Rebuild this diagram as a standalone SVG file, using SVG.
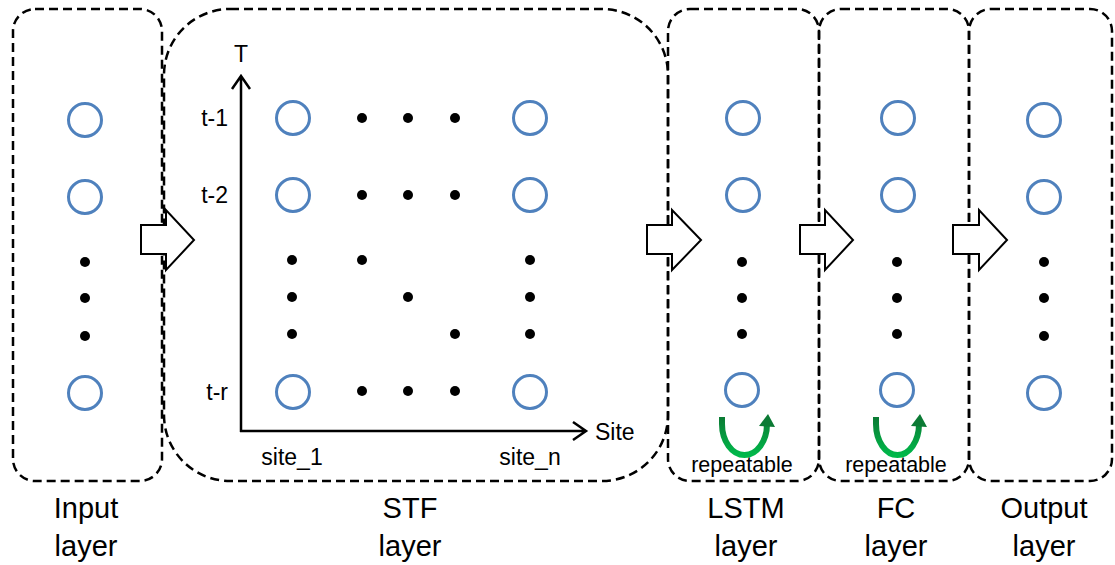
<svg xmlns="http://www.w3.org/2000/svg" width="1115" height="565" viewBox="0 0 1115 565">
<defs>
<style>
.box{fill:none;stroke:#000;stroke-width:2.5;stroke-dasharray:9 5}
.n{fill:none;stroke:#4F81BD;stroke-width:3}
.d{fill:#000}
.blk{fill:#fff;stroke:#000;stroke-width:2}
.ax{fill:none;stroke:#000;stroke-width:2.5}
.t{font-family:"Liberation Sans",Arial,sans-serif;fill:#000}
.lab{font-size:29px;text-anchor:middle}
.sm{font-size:23px}
.rep{font-size:21.5px;text-anchor:middle}
.loop{fill:none;stroke:url(#g);stroke-width:6}
</style>
<linearGradient id="g" x1="0" y1="0" x2="0" y2="1">
<stop offset="0" stop-color="#0B7A34"/>
<stop offset="1" stop-color="#00B84A"/>
</linearGradient>
</defs>
<rect width="1115" height="565" fill="#fff"/>

<g id="input-layer">
<rect class="box" x="13" y="9" width="149" height="472" rx="22"/>
<circle class="n" cx="85" cy="120" r="16.5"/>
<circle class="n" cx="85" cy="197" r="16.5"/>
<circle class="d" cx="85" cy="262" r="5"/>
<circle class="d" cx="85" cy="298" r="5"/>
<circle class="d" cx="85" cy="336" r="5"/>
<circle class="n" cx="85" cy="393" r="16.5"/>
<text class="t lab" x="86" y="518">Input</text>
<text class="t lab" x="86" y="556">layer</text>
</g>

<g id="stf-layer">
<rect class="box" x="164" y="9" width="504" height="472" rx="66"/>
<path class="ax" d="M241,432 V76 M232,89 L241,76 L250,89"/>
<path class="ax" d="M240,431 H586 M573,422 L586,431 L573,440"/>
<text class="t sm" x="241" y="62" text-anchor="middle">T</text>
<text class="t sm" x="595" y="440">Site</text>
<text class="t sm" x="228" y="126" text-anchor="end">t-1</text>
<text class="t sm" x="228" y="203" text-anchor="end">t-2</text>
<text class="t sm" x="228" y="400" text-anchor="end">t-r</text>
<text class="t sm" x="292" y="465" text-anchor="middle">site_1</text>
<text class="t sm" x="530" y="465" text-anchor="middle">site_n</text>
<circle class="n" cx="293" cy="118" r="16.5"/>
<circle class="n" cx="293" cy="195" r="16.5"/>
<circle class="n" cx="293" cy="392" r="16.5"/>
<circle class="n" cx="530" cy="118" r="16.5"/>
<circle class="n" cx="530" cy="195" r="16.5"/>
<circle class="n" cx="530" cy="392" r="16.5"/>
<circle class="d" cx="362" cy="118" r="5"/>
<circle class="d" cx="408" cy="118" r="5"/>
<circle class="d" cx="455" cy="118" r="5"/>
<circle class="d" cx="362" cy="195" r="5"/>
<circle class="d" cx="408" cy="195" r="5"/>
<circle class="d" cx="455" cy="195" r="5"/>
<circle class="d" cx="362" cy="391" r="5"/>
<circle class="d" cx="408" cy="391" r="5"/>
<circle class="d" cx="455" cy="391" r="5"/>
<circle class="d" cx="292" cy="260" r="5"/>
<circle class="d" cx="292" cy="297" r="5"/>
<circle class="d" cx="292" cy="334" r="5"/>
<circle class="d" cx="362" cy="260" r="5"/>
<circle class="d" cx="408" cy="297" r="5"/>
<circle class="d" cx="455" cy="334" r="5"/>
<circle class="d" cx="530" cy="260" r="5"/>
<circle class="d" cx="530" cy="297" r="5"/>
<circle class="d" cx="530" cy="334" r="5"/>
<text class="t lab" x="410" y="518">STF</text>
<text class="t lab" x="410" y="556">layer</text>
</g>

<g id="lstm-layer">
<rect class="box" x="668" y="9" width="151" height="472" rx="22"/>
<circle class="n" cx="743" cy="118" r="16.5"/>
<circle class="n" cx="743" cy="195" r="16.5"/>
<circle class="d" cx="742" cy="262" r="5"/>
<circle class="d" cx="742" cy="298" r="5"/>
<circle class="d" cx="742" cy="334" r="5"/>
<circle class="n" cx="742" cy="390" r="16.5"/>
<path class="loop" d="M722,417 V424 A22.5,31 0 0 0 767,424 V424"/>
<polygon points="759,426 768,414 775,427" fill="#0B7A34"/>
<text class="t rep" x="742" y="472">repeatable</text>
<text class="t lab" x="746" y="518">LSTM</text>
<text class="t lab" x="746" y="556">layer</text>
</g>

<g id="fc-layer">
<rect class="box" x="819" y="9" width="150" height="472" rx="22"/>
<circle class="n" cx="898" cy="118" r="16.5"/>
<circle class="n" cx="898" cy="195" r="16.5"/>
<circle class="d" cx="897" cy="262" r="5"/>
<circle class="d" cx="897" cy="298" r="5"/>
<circle class="d" cx="897" cy="334" r="5"/>
<circle class="n" cx="897" cy="390" r="16.5"/>
<path class="loop" d="M876,417 V424 A21.5,31 0 0 0 919,424 V424"/>
<polygon points="911,426 920,414 927,427" fill="#0B7A34"/>
<text class="t rep" x="896" y="472">repeatable</text>
<text class="t lab" x="896" y="518">FC</text>
<text class="t lab" x="896" y="556">layer</text>
</g>

<g id="output-layer">
<rect class="box" x="969" y="9" width="143" height="472" rx="22"/>
<circle class="n" cx="1044" cy="120" r="16.5"/>
<circle class="n" cx="1044" cy="197" r="16.5"/>
<circle class="d" cx="1044" cy="262" r="5"/>
<circle class="d" cx="1044" cy="298" r="5"/>
<circle class="d" cx="1044" cy="336" r="5"/>
<circle class="n" cx="1044" cy="393" r="16.5"/>
<text class="t lab" x="1044" y="518">Output</text>
<text class="t lab" x="1044" y="556">layer</text>
</g>

<g id="connectors">
<polygon class="blk" points="141,225 166,225 166,210 194,240 166,270 166,254 141,254"/>
<polygon class="blk" points="647,225 672,225 672,210 701,240 672,270 672,254 647,254"/>
<polygon class="blk" points="800,225 825,225 825,210 853,240 825,270 825,254 800,254"/>
<polygon class="blk" points="953,225 979,225 979,210 1007,240 979,270 979,254 953,254"/>
</g>
</svg>
